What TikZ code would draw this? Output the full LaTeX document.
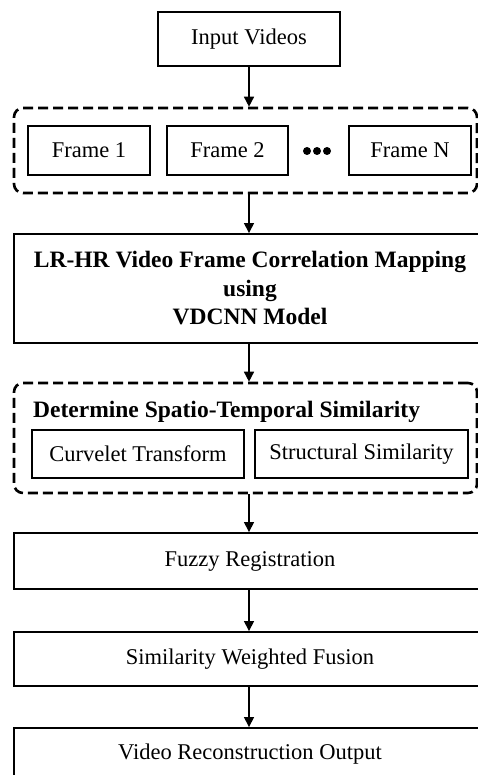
\documentclass[tikz,border=0pt]{standalone}
\usepackage{fontspec}
\setmainfont{Liberation Serif}
\usetikzlibrary{arrows.meta}
\tikzset{
 box/.style={draw, line width=1.9pt, inner sep=0pt, align=center, font=\fontsize{22.5}{27}\selectfont},
 grp/.style={draw, line width=2.6pt, dash pattern=on 10pt off 5pt, rounded corners=9pt, inner sep=0pt},
 arr/.style={line width=1.5pt, -{Triangle[width=10pt,length=10pt]}},
 boldtxt/.style={font=\fontsize{23.5}{28.5}\selectfont\bfseries, inner sep=0pt, align=center},
 dotc/.style={circle, fill, inner sep=0pt, minimum size=8pt},
}
\begin{document}
\begin{tikzpicture}[x=1pt,y=-1pt]
\useasboundingbox (0,0) rectangle (478,775);
\clip (0,0) rectangle (478,775);
% top
\node[box, minimum width=182pt, minimum height=54pt] (in) at (249,39) {Input Videos};
% frames group
\node[grp, minimum width=463pt, minimum height=85pt] (g1) at (245.5,150.5) {};
\node[box, minimum width=122pt, minimum height=49pt] (f1) at (89,150.5) {Frame 1};
\node[box, minimum width=121pt, minimum height=49pt] (f2) at (227.5,150.5) {Frame 2};
\node[dotc] (d1) at (307,151) {};
\node[dotc] (d2) at (317,151) {};
\node[dotc] (d3) at (327,151) {};
\node[box, minimum width=122pt, minimum height=49pt] (fN) at (410,150.5) {Frame N};
% mapping
\node[box, boldtxt, minimum width=472pt, minimum height=109pt] (lr) at (250,288.5)
  {LR-HR Video Frame Correlation Mapping\\using\\VDCNN Model};
% similarity group
\node[grp, minimum width=463pt, minimum height=110pt] (g2) at (245.5,438) {};
\node[boldtxt, anchor=base west] (tt) at (33,417) {Determine Spatio-Temporal Similarity};
\node[box, minimum width=212pt, minimum height=48pt] (ct) at (138,454) {Curvelet Transform};
\node[box, minimum width=213pt, minimum height=48pt] (ss) at (361.5,454) {Structural Similarity};
% lower boxes
\node[box, minimum width=472pt, minimum height=56pt] (fr) at (250,561) {Fuzzy Registration};
\node[box, minimum width=472pt, minimum height=54pt] (sw) at (250,659) {Similarity Weighted Fusion};
\node[box, minimum width=472pt, minimum height=54pt] (vr) at (250,755) {\raisebox{6pt}{Video Reconstruction Output}};
% arrows
\draw[arr] (in.south) -- (in.south |- g1.north);
\draw[arr] (in.south |- g1.south) -- (in.south |- lr.north);
\draw[arr] (in.south |- lr.south) -- (in.south |- g2.north);
\draw[arr] (in.south |- g2.south) -- (in.south |- fr.north);
\draw[arr] (in.south |- fr.south) -- (in.south |- sw.north);
\draw[arr] (in.south |- sw.south) -- (in.south |- vr.north);
\end{tikzpicture}
\end{document}
